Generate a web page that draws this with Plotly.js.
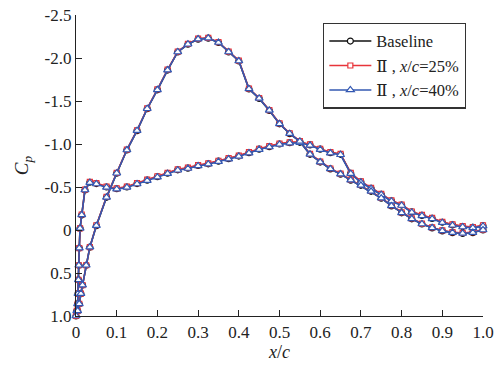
<!DOCTYPE html>
<html>
<head>
<meta charset="utf-8">
<script src="https://cdn.plot.ly/plotly-3.0.1.min.js"></script>
<style>html,body{margin:0;padding:0;background:#fff;}#chart{width:501px;height:366px;}</style>
</head>
<body>
<div id="chart"></div>
<script>
// Lower surface (gentle suction rise), leading edge -> trailing edge
const lowerX = [0, 0.002, 0.004, 0.005, 0.006, 0.007, 0.008, 0.010, 0.014, 0.022, 0.034, 0.05, 0.075, 0.1,
  0.125, 0.15, 0.175, 0.2, 0.225, 0.25, 0.275, 0.3, 0.325, 0.35, 0.375, 0.4, 0.425, 0.45, 0.475, 0.5,
  0.525, 0.55, 0.575, 0.6, 0.625, 0.65, 0.675, 0.7, 0.725, 0.75, 0.775, 0.8, 0.825, 0.85, 0.875, 0.9,
  0.925, 0.95, 0.975, 1.0];
const lowerBaseline = [1.0, 0.94, 0.86, 0.74, 0.58, 0.41, 0.21, -0.02, -0.175, -0.465, -0.555, -0.54, -0.50, -0.48,
  -0.50, -0.54, -0.58, -0.62, -0.66, -0.70, -0.72, -0.75, -0.77, -0.80, -0.83, -0.86, -0.90, -0.94, -0.97, -1.00,
  -1.015, -1.02, -0.99, -0.94, -0.90, -0.88, -0.66, -0.56, -0.485, -0.415, -0.34, -0.29, -0.21, -0.17, -0.135, -0.09,
  -0.06, -0.04, -0.03, -0.05];
const lower25 = [1.0, 0.94, 0.86, 0.74, 0.58, 0.41, 0.21, -0.02, -0.18, -0.47, -0.56, -0.545, -0.505, -0.485,
  -0.505, -0.545, -0.585, -0.625, -0.665, -0.705, -0.725, -0.755, -0.775, -0.805, -0.835, -0.865, -0.905, -0.945, -0.975, -1.005,
  -1.02, -1.025, -0.995, -0.945, -0.905, -0.885, -0.665, -0.565, -0.49, -0.42, -0.345, -0.295, -0.215, -0.175, -0.14, -0.095,
  -0.065, -0.045, -0.035, -0.055];
const lower40 = [1.0, 0.94, 0.86, 0.74, 0.58, 0.41, 0.21, -0.02, -0.175, -0.465, -0.55, -0.535, -0.495, -0.475,
  -0.495, -0.535, -0.575, -0.615, -0.655, -0.695, -0.715, -0.745, -0.765, -0.795, -0.825, -0.855, -0.895, -0.935, -0.965, -0.995,
  -1.01, -1.015, -0.985, -0.935, -0.895, -0.875, -0.655, -0.555, -0.48, -0.41, -0.335, -0.285, -0.205, -0.165, -0.13, -0.085,
  -0.055, -0.035, -0.025, -0.045];

// Upper surface (strong suction peak), leading edge -> trailing edge
const upperX = [0, 0.004, 0.008, 0.012, 0.016, 0.025, 0.034, 0.05, 0.075, 0.1, 0.125, 0.15, 0.175, 0.2,
  0.225, 0.25, 0.275, 0.3, 0.325, 0.35, 0.375, 0.4, 0.425, 0.45, 0.475, 0.5, 0.525, 0.55, 0.575, 0.6,
  0.625, 0.65, 0.675, 0.7, 0.725, 0.75, 0.775, 0.8, 0.825, 0.85, 0.875, 0.9, 0.925, 0.95, 0.975, 1.0];
const upperBaseline = [1.0, 0.94, 0.86, 0.74, 0.64, 0.41, 0.20, -0.05, -0.38, -0.66, -0.93, -1.155, -1.41, -1.63,
  -1.86, -2.07, -2.16, -2.22, -2.23, -2.18, -2.07, -1.965, -1.64, -1.53, -1.39, -1.235, -1.12, -1.03, -0.88, -0.79,
  -0.71, -0.65, -0.58, -0.52, -0.45, -0.37, -0.28, -0.20, -0.13, -0.07, -0.025, 0.01, 0.03, 0.04, 0.03, 0.0];
const upper25 = [1.0, 0.94, 0.86, 0.74, 0.64, 0.41, 0.20, -0.055, -0.385, -0.665, -0.935, -1.16, -1.415, -1.635,
  -1.865, -2.075, -2.165, -2.225, -2.235, -2.185, -2.075, -1.97, -1.645, -1.535, -1.395, -1.24, -1.125, -1.035, -0.885, -0.795,
  -0.715, -0.655, -0.585, -0.525, -0.455, -0.375, -0.285, -0.205, -0.135, -0.075, -0.03, 0.005, 0.025, 0.035, 0.025, -0.005];
const upper40 = [1.0, 0.94, 0.86, 0.74, 0.64, 0.41, 0.20, -0.05, -0.38, -0.66, -0.93, -1.155, -1.41, -1.63,
  -1.86, -2.07, -2.16, -2.22, -2.23, -2.18, -2.07, -1.965, -1.64, -1.53, -1.39, -1.235, -1.12, -1.03, -0.88, -0.79,
  -0.71, -0.65, -0.58, -0.52, -0.45, -0.37, -0.28, -0.20, -0.13, -0.07, -0.025, 0.01, 0.03, 0.04, 0.03, 0.0];

const seriesNames = ["Baseline", "Ⅱ , <i>x</i>/<i>c</i>=25%", "Ⅱ , <i>x</i>/<i>c</i>=40%"];
const seriesColors = ["#111111", "#e8343a", "#3358b2"];
const seriesSymbols = ["circle", "square", "triangle-up"];
const seriesSizes = [6, 5, 7];

const yTickVals = [-2.5, -2.0, -1.5, -1.0, -0.5, 0, 0.5, 1.0];
const yTickText = ["-2.5", "-2.0", "-1.5", "-1.0", "-0.5", "0", "0.5", "1.0"];
const xTickVals = [0, 0.1, 0.2, 0.3, 0.4, 0.5, 0.6, 0.7, 0.8, 0.9, 1.0];
const xTickText = ["0", "0.1", "0.2", "0.3", "0.4", "0.5", "0.6", "0.7", "0.8", "0.9", "1.0"];

const lowerSets = [lowerBaseline, lower25, lower40];
const upperSets = [upperBaseline, upper25, upper40];

const traces = [];
for (let i = 0; i < 3; i++) {
  // one loop: trailing edge along lower surface to leading edge, then upper surface back to trailing edge
  const xs = lowerX.slice().reverse().concat(upperX.slice(1));
  const ys = lowerSets[i].slice().reverse().concat(upperSets[i].slice(1));
  traces.push({
    x: xs, y: ys, type: "scatter", mode: "lines+markers", name: seriesNames[i],
    line: {color: seriesColors[i], width: 1.6},
    marker: {symbol: seriesSymbols[i], size: seriesSizes[i], color: "#ffffff", line: {width: 1.2, color: seriesColors[i]}},
    cliponaxis: false
  });
}

const fam = "'Times New Roman', 'Liberation Serif', 'DejaVu Serif', serif";
const layout = {
  width: 501, height: 366,
  margin: {l: 76, r: 18, t: 15, b: 50},
  paper_bgcolor: "#fff", plot_bgcolor: "#fff",
  font: {family: fam, size: 16, color: "#222"},
  showlegend: true,
  legend: {x: 0.607, y: 0.975, xanchor: "left", yanchor: "top", bordercolor: "#333", borderwidth: 1.3,
    bgcolor: "#fff", font: {family: fam, size: 16.5, color: "#222"}, tracegroupgap: 0, itemwidth: 42},
  xaxis: {
    range: [0, 1.0], tickvals: xTickVals, ticktext: xTickText, ticks: "inside", ticklen: 6, tickwidth: 1,
    tickcolor: "#222", showline: true, linecolor: "#222", linewidth: 1.2, showgrid: false, zeroline: false,
    mirror: false, tickfont: {family: fam, size: 17, color: "#222"},
    title: {text: "<i>x</i>/<i>c</i>", font: {family: fam, size: 18, color: "#222"}, standoff: 2}
  },
  yaxis: {
    range: [1.0, -2.5], tickvals: yTickVals, ticktext: yTickText, ticks: "inside", ticklen: 6, tickwidth: 1,
    tickcolor: "#222", showline: true, linecolor: "#222", linewidth: 1.2, showgrid: false, zeroline: false,
    mirror: false, tickfont: {family: fam, size: 17, color: "#222"},
    title: {text: "<i>C<sub>p</sub></i>", font: {family: fam, size: 19, color: "#222"}, standoff: 10}
  }
};
Plotly.newPlot("chart", traces, layout, {displayModeBar: false, staticPlot: true});
</script>
</body>
</html>
